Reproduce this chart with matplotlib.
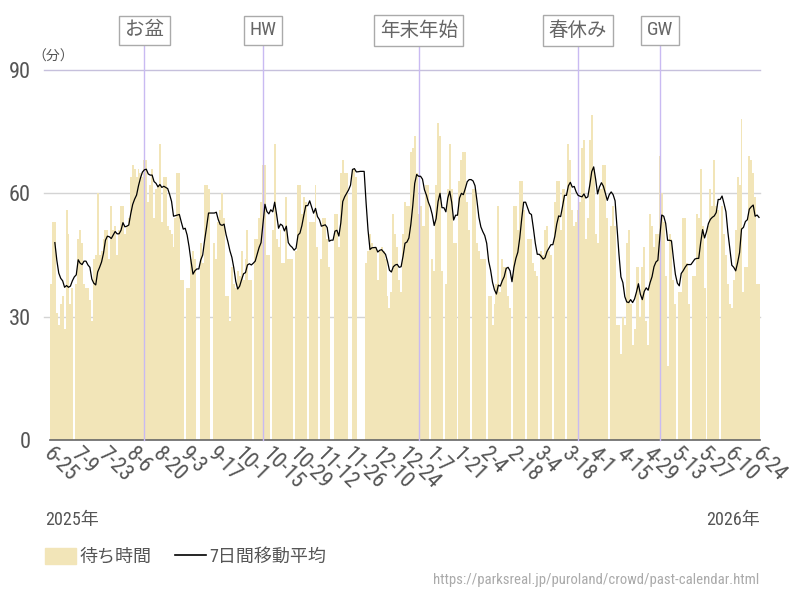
import matplotlib
matplotlib.use("Agg")
import numpy as np
import pandas as pd
import matplotlib.pyplot as plt
from matplotlib import font_manager
from matplotlib.patches import Patch
from matplotlib.lines import Line2D
from matplotlib.transforms import ScaledTranslation

# pick a narrow latin face if one is installed, CJK as fallback
names = {f.name for f in font_manager.fontManager.ttflist}
latin = "Roboto"
for cand in ["Roboto Condensed", "Liberation Sans Narrow", "DejaVu Sans Condensed"]:
    if cand in names:
        latin = cand
        break
plt.rcParams["font.family"] = [latin, "Noto Sans CJK JP", "DejaVu Sans"]

# daily wait (minutes), 2025-06-25 .. 2026-06-24, None = closed
start_date = "2025-06-25"
wait_minutes = [
    38, 53, 53, 31, 28, 33, 35, 27, 56, 50, 33, 37, None, 38, 49, 51, 48, 38, 37, 37,
    34, 29, 44, 45, 60, 45, 46, 49, 51, 51, 44, 57, 51, 52, 45, 51, 57, 57, 50, 52,
    54, 64, 67, 66, 64, 66, 65, 64, 68, 68, 58, 62, 66, 54, 61, 62,
    72, 53, 64, 64, 52, 51, 50, 47, 54, 65, 65, 39, 39, None, 37, 37, 44, 46, 44, None,
    None, 48, 43, 62, 62, 61, None, None, 48, 44, 53, 56, 60, 54, 35, 35, 29, 42, 38, 37,
    41, 40, 46, 39, 44, 51, 39, 39, None, 49, 49, 54, 58, 67, 67, 45, 45, None, 51, 72,
    49, 47, 51, 43, 43,
    59, 44, 44, 44, None, 46, 62, 62, 55, 59, 58, None, 53, 53, 53, 62, 47, None, 44, 54,
    54, 49, 42, None, None, 55, 55, 47, 65, 68, 65, 65, None, None, 66, 66, 64, None, None, None,
    None, 43, 46, 50, 48, 47, 47, 39, 46, 47, 46, 44, 35, 32, 36, 55, 50, 47, 39, 36,
    50,
    58, 57, 57, 70, 71, 74, 65, 55, 57, 52, 52, 62, 62, None, 44, 41, 62, 77, 74, 41,
    None, 38, 61, 72, 61, 48, 48, None, 63, 68, 70, 70, 58, 51, None, 61, 61, 48, 46, 44,
    44, 44, None, 35, 35, 28, 33, 38, 57, 36, 44, 42, 42, 35, 32, None, 57, 57, 51, 63,
    63, 56,
    None, 49, 49, 49, 43, 41, 40, None, 46, 45, 51, 52, 46, 45, None, 58, 63, 63, 51, 61,
    61, None, 72, 68, 56, 52, 53, 56, 58, 71, 73, 49, 54, 73, 79, 66, 50, 48, 61, 61,
    67, 67, 54, None, 52, 57, 52, 28, 28, 21, 30, 28, 48, 51, 33, 23, 27, 42, 42,
    30, 42, 47, 29, 23, 55, 52, 47, 50, 50, 69, 60, 53, 40, 18, 50, 49, 39, 33, None,
    36, 36, 54, 54, 43, 33, None, 40, 40, 55, 54, 66, 52, 37, None, 52, 61, 57, 68, 57,
    56, None, 57, 50, 45, 38, 33, 32, 39, 51, 64, 62, 78, 36, 42, 42, 69, 68, 65, 59,
    38, 38,
]

event_labels = ["お盆", "HW", "年末年始", "春休み", "GW"]
event_dates = ["2025-08-12", "2025-10-12", "2025-12-31", "2026-03-23", "2026-05-04"]

dates = pd.date_range(start_date, periods=len(wait_minutes), freq="D")
wait = pd.Series([np.nan if v is None else v for v in wait_minutes], index=dates, dtype=float)
# trailing 7-day mean over the open days in each window
moving_avg = wait.rolling(7, min_periods=3).mean().dropna()

fig = plt.figure(figsize=(8, 6), dpi=100)
ax = fig.add_axes([0.0625, 0.2667, 0.8875, 0.6167])

bar_color = "#f2e5b8"
ax.bar(wait.index, wait.values, width=1.0, color=bar_color, linewidth=0, zorder=2)
ax.plot(moving_avg.index, moving_avg.values, color="black", linewidth=0.9, zorder=4)

# grid lines
for yv, col in [(30, "#d4d4d4"), (60, "#d4d4d4"), (90, "#c6c0dc")]:
    ax.axhline(yv, xmin=-0.008, xmax=1, color=col, linewidth=1, clip_on=False, zorder=1)

# event markers
for lab, d in zip(event_labels, pd.to_datetime(event_dates)):
    ax.plot([d, d], [0, 96], color="#c9baf2", linewidth=1, clip_on=False, zorder=3)
    ax.text(d, 99.6, lab, ha="center", va="center", fontsize=14, color="#666666",
            clip_on=False,
            bbox=dict(boxstyle="square,pad=0.3", fc="white", ec="#aaaaaa", lw=1))

ax.set_ylim(0, 90)
ax.set_xlim(dates[0] - pd.Timedelta(hours=12), dates[-1] + pd.Timedelta(hours=12))
ax.set_yticks([0, 30, 60, 90])
ax.tick_params(axis="y", length=0, pad=14, labelsize=16, labelcolor="#555555")

tick_dates = dates[::14]
ax.set_xticks(tick_dates)
ax.set_xticklabels([f"{d.month}-{d.day}" for d in tick_dates], rotation=-45,
                   ha="left", va="center", rotation_mode="anchor")
ax.tick_params(axis="x", length=0, pad=8, labelsize=16, labelcolor="#555555")
shift = ScaledTranslation(-4 / 100, 0, fig.dpi_scale_trans)
for lbl in ax.get_xticklabels():
    lbl.set_transform(lbl.get_transform() + shift)

for s in ["top", "right", "left"]:
    ax.spines[s].set_visible(False)
ax.spines["bottom"].set_color("#666666")
ax.spines["bottom"].set_linewidth(1.2)

fig.text(0.04, 0.905, "（分）", fontsize=10, color="#555555", ha="left", va="center")
fig.text(0.056, 0.133, "2025年", fontsize=13, color="#555555", ha="left", va="center")
fig.text(0.95, 0.133, "2026年", fontsize=13, color="#555555", ha="right", va="center")

handles = [Patch(color=bar_color), Line2D([0], [0], color="black", lw=1.2)]
fig.legend(handles, ["待ち時間", "7日間移動平均"], loc="center left",
           bbox_to_anchor=(0.056, 0.072), ncol=2, frameon=False, fontsize=13,
           handlelength=1.75, handleheight=1.0, handletextpad=0.15, columnspacing=1.3,
           borderpad=0, borderaxespad=0, labelcolor="#555555")

fig.text(0.949, 0.033, "https://parksreal.jp/puroland/crowd/past-calendar.html",
         fontsize=10.6, color="#aaaaaa", ha="right", va="center")

fig.savefig("out.png", dpi=100)
